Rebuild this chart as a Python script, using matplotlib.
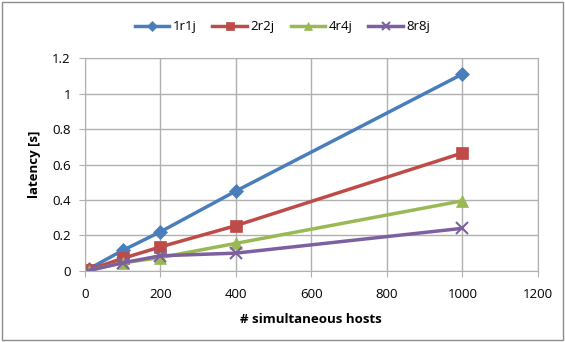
import matplotlib.pyplot as plt
from matplotlib.patches import Rectangle

# data
hosts = [10, 100, 200, 400, 1000]
lat_1r1j = [0.01, 0.115, 0.22, 0.45, 1.11]
lat_2r2j = [0.005, 0.07, 0.135, 0.255, 0.665]
lat_4r4j = [0.002, 0.045, 0.075, 0.155, 0.395]
lat_8r8j = [0.002, 0.045, 0.085, 0.10, 0.24]

series = [
    ('1r1j', lat_1r1j, '#4A7EBB', 'D', 7),
    ('2r2j', lat_2r2j, '#BE4B48', 's', 8),
    ('4r4j', lat_4r4j, '#98B954', '^', 9),
    ('8r8j', lat_8r8j, '#7D60A0', 'x', 9),
]

plt.rcParams['font.family'] = ['Open Sans', 'DejaVu Sans']

fig = plt.figure(figsize=(5.65, 3.42), dpi=100)
ax = fig.add_axes([0.150, 0.208, 0.802, 0.622])

# outer chart frame
fig.patches.append(Rectangle((0.004, 0.006), 0.992, 0.988, transform=fig.transFigure,
                             fill=False, edgecolor='#8C8C8C', linewidth=1.0))

for name, vals, color, marker, ms in series:
    ax.plot(hosts, vals, color=color, linewidth=2.5, marker=marker, markersize=ms,
            markeredgewidth=1.5 if marker == 'x' else 0.5, label=name)

ax.set_xlim(0, 1200)
ax.set_ylim(0, 1.2)
ax.set_xticks(range(0, 1201, 200))
ax.set_yticks([0, 0.2, 0.4, 0.6, 0.8, 1.0, 1.2])
ax.set_yticklabels(['0', '0.2', '0.4', '0.6', '0.8', '1', '1.2'])
ax.grid(True, color='#B0B0B0', linewidth=1.0)
ax.set_axisbelow(True)
for s in ax.spines.values():
    s.set_color('#B0B0B0')
ax.tick_params(axis='x', pad=8)
ax.tick_params(axis='y', pad=6)
ax.tick_params(labelcolor='black', labelsize=9.5, length=4, color='#B0B0B0')

ax.set_xlabel('# simultaneous hosts', fontsize=9.5, fontweight='bold', labelpad=9)
ax.set_ylabel('latency [s]', fontsize=9.5, fontweight='bold', labelpad=8)

fig.legend(loc='upper center', bbox_to_anchor=(0.5, 0.975), ncol=4, frameon=False,
           fontsize=9.5, handlelength=2.6, columnspacing=1.2, handletextpad=0.3,
           markerscale=0.7)

fig.savefig('out.png', dpi=100)
